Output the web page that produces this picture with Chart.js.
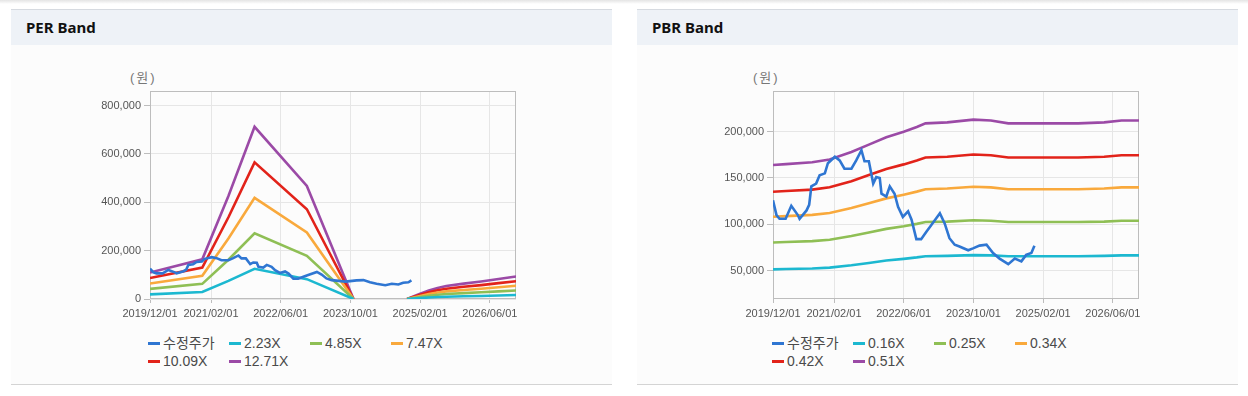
<!DOCTYPE html>
<html>
<head>
<meta charset="utf-8">
<script src="https://cdn.jsdelivr.net/npm/chart.js@4.4.1/dist/chart.umd.min.js"></script>
<style>
  body { margin: 0; width: 1248px; height: 396px; background: #fff; position: relative; overflow: hidden;
         font-family: "Liberation Sans", "Noto Sans CJK KR", sans-serif; }
  .topline { position: absolute; left: 0; top: 0; width: 1248px; height: 4px; background: linear-gradient(#e4e4e4, #fff); }
  .panel { position: absolute; top: 9px; width: 601px; height: 374px; background: #fcfcfc;
           border-top: 1px solid #d6dae0; border-bottom: 1px solid #d4d4d4; }
  .head { height: 35px; background: #eef2f7; font: bold 15px "Noto Sans", sans-serif; color: #111;
          line-height: 35px; padding-left: 15px; }
  .unit { position: absolute; top: 70px; font-size: 13px; line-height: 16px; color: #777; letter-spacing: 2px; }
  canvas { position: absolute; top: 81px; }
  .legend { position: absolute; top: 334px; display: grid; grid-template-columns: repeat(4, 81px);
            font-size: 14px; line-height: 18px; color: #4a4a4a; white-space: nowrap; }
  .legend .mk { display: inline-block; width: 12px; height: 3px; vertical-align: middle; margin: -2px 3px 0 0; }
</style>
</head>
<body>
<div class="topline"></div>

<div class="panel" style="left:11px"><div class="head">PER Band</div></div>
<div class="panel" style="left:637px"><div class="head">PBR Band</div></div>

<div class="unit" style="left:130px">(원)</div>
<div class="unit" style="left:753px">(원)</div>

<canvas id="perBand" width="440" height="248" style="left:90px"></canvas>
<canvas id="pbrBand" width="440" height="248" style="left:713px"></canvas>

<div class="legend" id="perLegend" style="left:148px"></div>
<div class="legend" id="pbrLegend" style="left:772px"></div>

<script>
// x축: 2019/12 부터 개월 수
const xTickMonths = [0, 14, 30, 46, 62, 78];
const xTickLabels = ['2019/12/01', '2021/02/01', '2022/06/01', '2023/10/01', '2025/02/01', '2026/06/01'];
const xMin = 0;
const xMax = 84;

// 수정주가
const priceMonths = [0, 0.8, 1.5, 2.9, 4.2, 5.7, 6.1, 7.7, 8.3, 8.8, 9.9, 10.7, 11.9, 12.6, 14.2, 15.3, 16.4, 18,
    19.1, 20.3, 21, 22, 23, 23.7, 24.5, 24.9, 26, 26.8, 27.9, 28.7, 29.8, 31, 31.8, 32.9, 34, 35.2, 36.3, 38.3,
    39.4, 40.5, 41.7, 42.8, 44.8, 45.9, 47.4, 49, 50.5, 52, 54, 55.5, 57, 58.1, 59.3, 60];
const priceValues = [126000, 110000, 106000, 106000, 120000, 110000, 106000, 115000, 121000, 141000, 144000,
    153000, 155000, 166000, 173000, 169000, 160000, 160000, 169000, 180000, 168000, 168000, 144000, 151000,
    150000, 133000, 130000, 141000, 133000, 119000, 108000, 114000, 105000, 84000, 84000, 92000, 99000,
    112000, 101000, 85000, 78000, 76000, 72000, 74000, 77000, 78000, 69000, 63000, 57000, 63000, 60000,
    67000, 69000, 77000];

// PER 밴드
const perMonths = [0, 12, 18, 24, 36, 46.7, 52, 59, 62, 64, 66, 68, 72, 76, 80, 84];
const per223 = [19200, 28800, 74700, 124900, 82100, 0, null, 0, 3800, 6200, 8000, 9400, 11200, 12700, 14500, 16300];
const per485 = [41700, 62600, 162500, 271600, 178500, 0, null, 0, 8200, 13600, 17500, 20400, 24300, 27600, 31500, 35400];
const per747 = [64200, 96400, 250200, 418300, 274900, 0, null, 0, 12700, 20900, 26900, 31400, 37400, 42600, 48600, 54500];
const per1009 = [86800, 130200, 338000, 565000, 371300, 0, null, 0, 17200, 28300, 36300, 42400, 50500, 57500, 65600, 73700];
const per1271 = [109300, 164000, 425800, 711800, 467700, 0, null, 0, 21600, 35600, 45800, 53400, 63600, 72400, 82600, 92800];
const perYTicks = [0, 200000, 400000, 600000, 800000];

// PBR 밴드
const pbrMonths = [0, 3, 9, 13, 18, 22, 26, 30, 33, 35, 40, 46, 50, 54, 62, 70, 76, 80, 84];
const pbr016 = [51400, 51800, 52400, 53300, 55800, 58300, 60900, 62700, 64300, 65600, 65900, 66800, 66500, 65600, 65600, 65600, 65900, 66500, 66500];
const pbr025 = [80400, 80900, 81900, 83300, 87300, 91200, 95100, 98000, 100500, 102500, 102900, 104400, 103900, 102500, 102500, 102500, 102900, 103900, 103900];
const pbr034 = [108200, 108900, 110200, 112200, 117500, 122800, 128000, 132000, 135300, 137900, 138600, 140600, 139900, 137900, 137900, 137900, 138600, 139900, 139900];
const pbr042 = [135100, 135900, 137500, 140000, 146600, 153200, 159800, 164700, 168800, 172100, 172900, 175400, 174600, 172100, 172100, 172100, 172900, 174600, 174600];
const pbr051 = [164000, 165000, 167000, 170000, 178000, 186000, 194000, 200000, 205000, 209000, 210000, 213000, 212000, 209000, 209000, 209000, 210000, 212000, 212000];
const pbrYTicks = [50000, 100000, 150000, 200000];

const cores = {
    preco: '#2f76d2',
    ciano: '#1cb8d0',
    verde: '#8fbf55',
    laranja: '#f9a93c',
    vermelho: '#e2231a',
    roxo: '#9b4aa6'
};

function pontos(meses, valores) {
    return meses.map((m, i) => ({ x: m, y: valores[i] }));
}

function serie(label, meses, valores, cor) {
    return {
        label: label,
        data: pontos(meses, valores),
        borderColor: cor,
        backgroundColor: cor,
        borderWidth: 2.6,
        pointRadius: 0,
        tension: 0,
        spanGaps: false
    };
}

// moldura cinza em volta da área do gráfico
const moldura = {
    id: 'moldura',
    beforeDatasetsDraw(chart) {
        const a = chart.chartArea;
        const ctx = chart.ctx;
        ctx.save();
        ctx.strokeStyle = '#bdbdbd';
        ctx.lineWidth = 1;
        ctx.strokeRect(Math.round(a.left) + 0.5, Math.round(a.top) + 0.5,
            Math.round(a.right - a.left) - 1, Math.round(a.bottom - a.top) - 1);
        ctx.restore();
    }
};

function opcoes(yMin, yMax, yTicks) {
    return {
        responsive: false,
        animation: false,
        layout: { padding: { left: 0, top: 10, right: 14, bottom: 0 } },
        plugins: { legend: { display: false }, tooltip: { enabled: false } },
        scales: {
            x: {
                type: 'linear',
                min: xMin,
                max: xMax,
                afterBuildTicks: (scale) => { scale.ticks = xTickMonths.map(v => ({ value: v })); },
                afterFit: (scale) => { scale.height = 30; },
                ticks: {
                    autoSkip: false,
                    maxRotation: 0,
                    padding: 4,
                    color: '#555',
                    font: { family: 'Liberation Sans', size: 11 },
                    callback: (v) => xTickLabels[xTickMonths.indexOf(v)]
                },
                grid: { color: '#e6e6e6', tickColor: '#bdbdbd', tickLength: 4 },
                border: { display: false }
            },
            y: {
                min: yMin,
                max: yMax,
                afterBuildTicks: (scale) => { scale.ticks = yTicks.map(v => ({ value: v })); },
                afterFit: (scale) => { scale.width = 60; },
                ticks: {
                    padding: 3,
                    color: '#555',
                    font: { family: 'Liberation Sans', size: 11 },
                    callback: (v) => v.toLocaleString('en-US')
                },
                grid: { color: '#e6e6e6', tickColor: '#bdbdbd', tickLength: 6 },
                border: { display: false }
            }
        }
    };
}

function montarLegenda(id, datasets) {
    const el = document.getElementById(id);
    el.innerHTML = datasets.map(d =>
        `<div><span class="mk" style="background:${d.borderColor}"></span>${d.label}</div>`
    ).join('');
}

const perDatasets = [
    serie('수정주가', priceMonths, priceValues, cores.preco),
    serie('2.23X', perMonths, per223, cores.ciano),
    serie('4.85X', perMonths, per485, cores.verde),
    serie('7.47X', perMonths, per747, cores.laranja),
    serie('10.09X', perMonths, per1009, cores.vermelho),
    serie('12.71X', perMonths, per1271, cores.roxo)
];

const pbrDatasets = [
    serie('수정주가', priceMonths, priceValues, cores.preco),
    serie('0.16X', pbrMonths, pbr016, cores.ciano),
    serie('0.25X', pbrMonths, pbr025, cores.verde),
    serie('0.34X', pbrMonths, pbr034, cores.laranja),
    serie('0.42X', pbrMonths, pbr042, cores.vermelho),
    serie('0.51X', pbrMonths, pbr051, cores.roxo)
];

new Chart(document.getElementById('perBand'), {
    type: 'line',
    data: { datasets: perDatasets },
    options: opcoes(0, 860000, perYTicks),
    plugins: [moldura]
});

new Chart(document.getElementById('pbrBand'), {
    type: 'line',
    data: { datasets: pbrDatasets },
    options: opcoes(19400, 243900, pbrYTicks),
    plugins: [moldura]
});

montarLegenda('perLegend', perDatasets);
montarLegenda('pbrLegend', pbrDatasets);
</script>
</body>
</html>
